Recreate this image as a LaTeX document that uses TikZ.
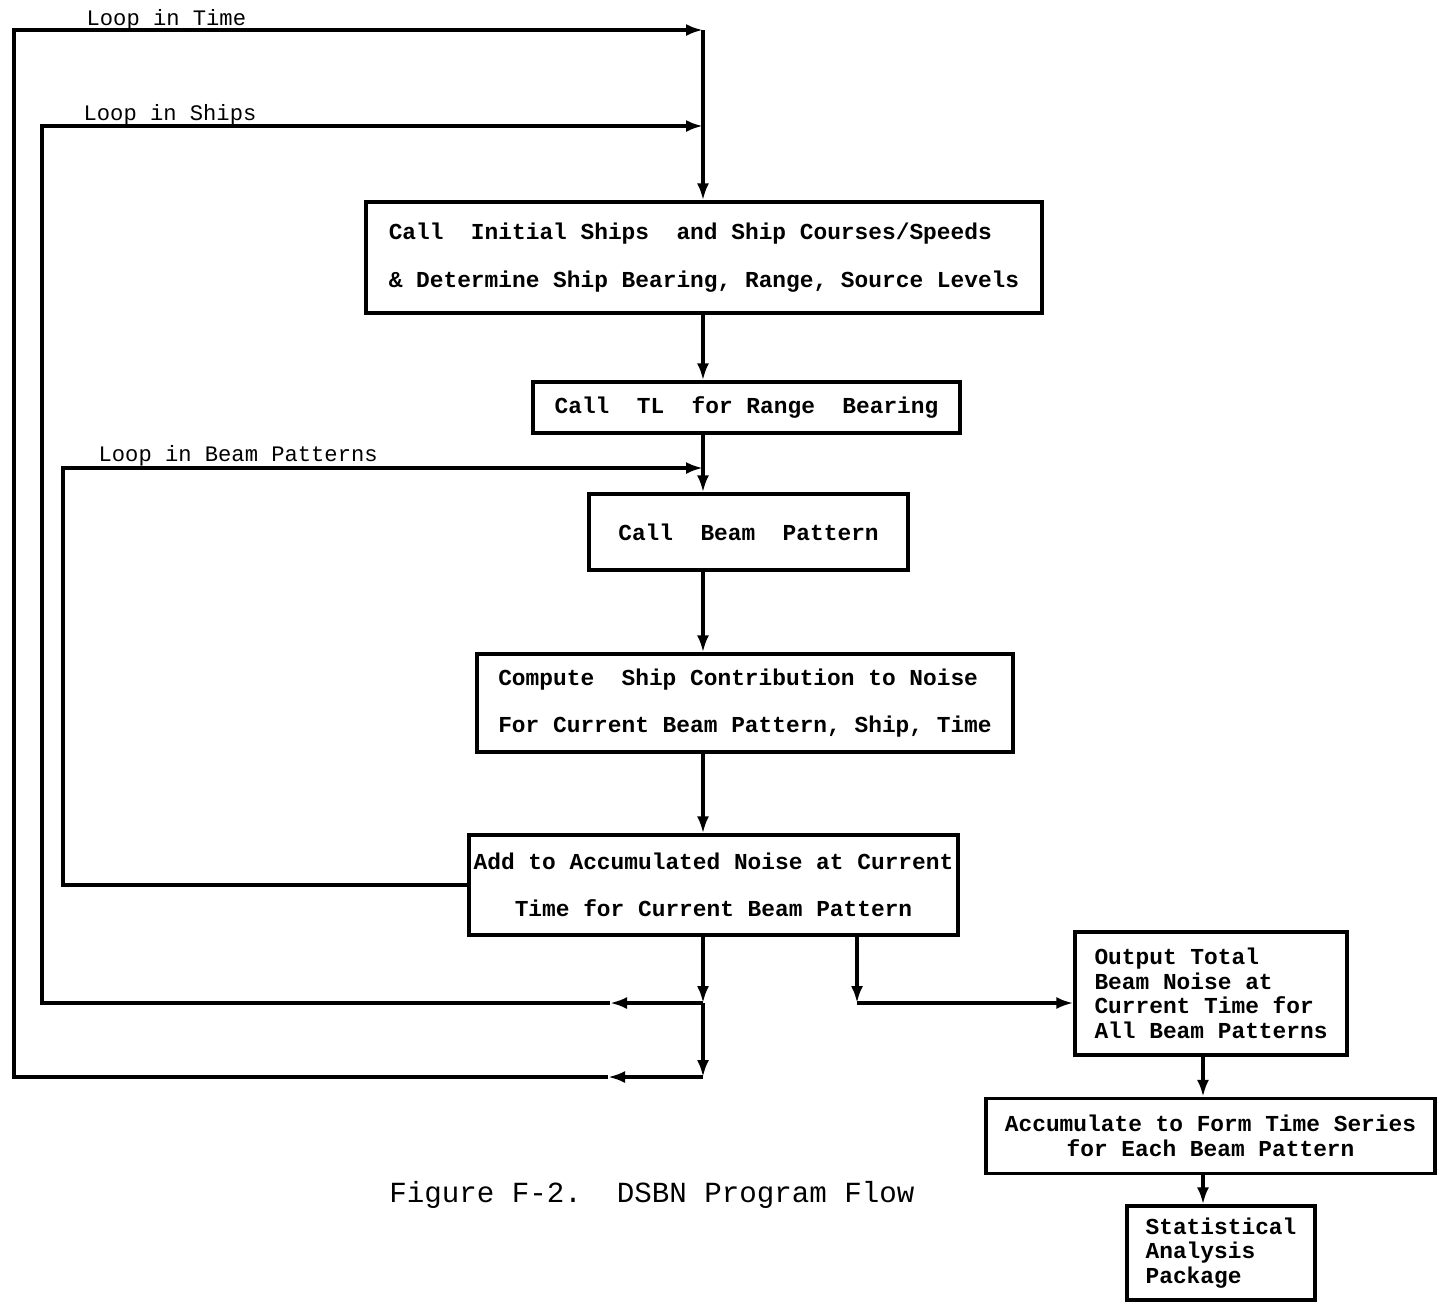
\documentclass[tikz,border=0pt]{standalone}
\usepackage{fontspec}
\newfontfamily\flowfont{Liberation Mono}
\usepackage{tikz}
\usetikzlibrary{arrows.meta,positioning,calc}

\begin{document}
\begin{tikzpicture}[
    x=0.02cm, y=-0.02cm,
    line width=1.9pt,
    >={Latex[length=3.4mm,width=2.4mm]},
    widebox/.style={rectangle, draw, inner sep=0pt, font=\flowfont\bfseries\fontsize{13}{27}\selectfont},
    tightbox/.style={rectangle, draw, inner sep=0pt, font=\flowfont\bfseries\fontsize{13}{14}\selectfont},
    looplabel/.style={anchor=base west, inner sep=0pt, font=\flowfont\fontsize{12.6}{14}\selectfont},
]
\useasboundingbox (0,0) rectangle (1437,1303);

% Program steps
\node[widebox, align=left, minimum width=13.52cm, minimum height=2.22cm] (ships) at (704,257.5)
    {Call\ \ Initial Ships\ \ and Ship Courses/Speeds\\\& Determine Ship Bearing, Range, Source Levels};
\node[widebox, align=center, minimum width=8.54cm, minimum height=1.02cm] (tl) at (746.5,407.5)
    {Call\ \ TL\ \ for Range\ \ Bearing};
\node[widebox, align=center, minimum width=6.38cm, minimum height=1.52cm] (beam) at (748.5,532)
    {Call\ \ Beam\ \ Pattern};
\node[widebox, align=left, minimum width=10.72cm, minimum height=1.96cm] (contrib) at (745,703)
    {Compute\ \ Ship Contribution to Noise\\For Current Beam Pattern, Ship, Time};
\node[widebox, align=center, minimum width=9.78cm, minimum height=2.0cm] (accum) at (713.5,885)
    {Add to Accumulated Noise at Current\\Time for Current Beam Pattern};

% Output side
\node[tightbox, align=left, minimum width=5.44cm, minimum height=2.46cm] (output) at (1211,993.5)
    {Output Total\\Beam Noise at\\Current Time for\\All Beam Patterns};
\node[tightbox, align=center, minimum width=8.98cm, minimum height=1.5cm] (series) at (1210.5,1136)
    {Accumulate to Form Time Series\\for Each Beam Pattern};
\node[tightbox, align=left, minimum width=3.76cm, minimum height=1.88cm] (stats) at (1221,1253)
    {Statistical\\Analysis\\Package};

% Caption
\node[font=\flowfont\fontsize{16.6}{18}\selectfont] (caption) at (652,1195) {Figure F-2.\ \ DSBN Program Flow};

% Junction points
\coordinate (timetop) at (703,30);
\coordinate (shiptop) at (703,126);
\coordinate (beamtop) at (703,468);
\coordinate (shipjoin) at (703,1003);
\coordinate (timejoin) at (703,1077);
\coordinate (shipmid) at (610,1003);
\coordinate (timemid) at (608,1077);
\coordinate (shipleft) at (42,1003);
\coordinate (timeleft) at (14,1077);
\coordinate (beamleft) at (63,468);
\coordinate (outdrop) at (857,1003);
\coordinate (rspine) at (1203,0);

% Main flow
\draw[->] (timetop) -- (ships.north -| timetop);
\draw[->] (ships.south -| timetop) -- (tl.north -| timetop);
\draw (tl.south -| timetop) -- (beamtop);
\draw[->] (beamtop) -- (beam.north -| timetop);
\draw[->] (beam.south -| timetop) -- (contrib.north -| timetop);
\draw[->] (contrib.south -| timetop) -- (accum.north -| timetop);
\draw[->] (accum.south -| timetop) -- (shipjoin);
\draw[->] (shipjoin) -- (timejoin);

% Loops
\draw[->] (accum.west) -| (beamleft) -- (beamtop);
\draw[->] (shipjoin) -- (shipmid);
\draw[->] (shipmid) -- (shipleft) |- (shiptop);
\draw[->] (timejoin) -- (timemid);
\draw[->] (timemid) -- (timeleft) |- (timetop);

\node[looplabel] (timelabel) at (85,25) {Loop in Time};
\node[looplabel] (shiplabel) at (82,120) {Loop in Ships};
\node[looplabel] (beamlabel) at (97,461) {Loop in Beam Patterns};

% Output branch
\draw[->] (accum.south -| outdrop) -- (outdrop);
\draw[->] (outdrop) -- (outdrop -| output.west);
\draw[->] (output.south -| rspine) -- (series.north -| rspine);
\draw[->] (series.south -| rspine) -- (stats.north -| rspine);

\end{tikzpicture}
\end{document}
